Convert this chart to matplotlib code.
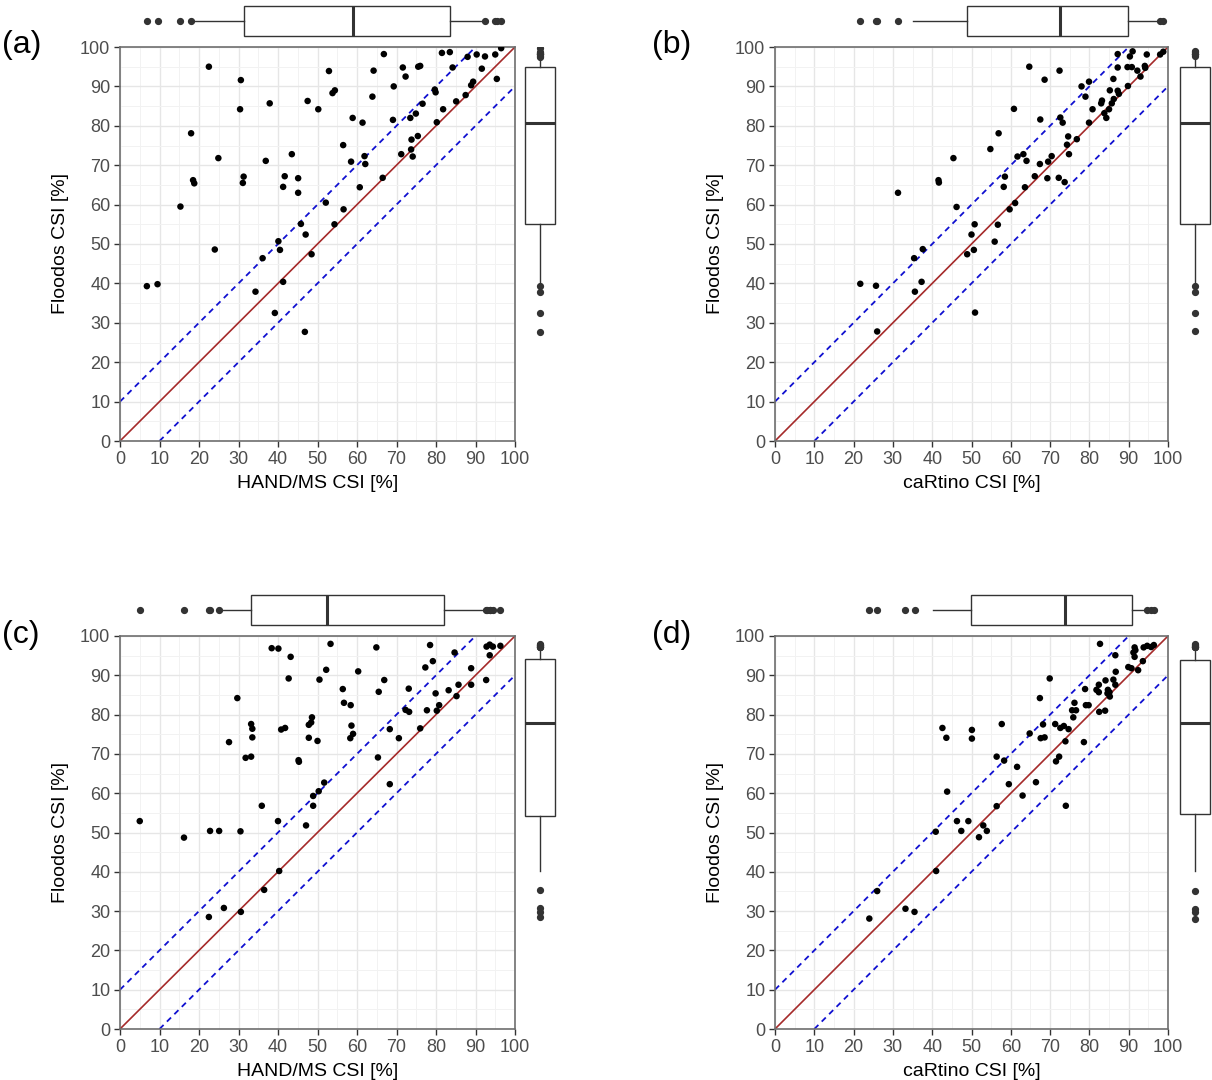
import numpy as np
import matplotlib
matplotlib.use('Agg')
import matplotlib.pyplot as plt
from matplotlib.ticker import MultipleLocator

plt.rcParams['font.family'] = ['Liberation Sans', 'DejaVu Sans']

# ---------------- data ----------------
a_x = [6.8, 9.5, 15.3, 18.0, 18.5, 18.8, 22.5, 24.9, 24.0, 30.6, 30.4, 31.3, 31.1, 34.3, 36.1, 36.9,
       37.9, 39.2, 40.1, 40.5, 41.3, 41.7, 41.3, 43.5, 45.1, 45.1, 45.8, 46.8, 47.0, 47.5, 48.5, 50.2,
       52.1, 52.9, 53.8, 54.4, 54.3, 56.5, 56.6, 58.5, 58.9, 60.7, 61.4, 61.9, 62.1, 63.9, 64.2, 66.5,
       66.8, 69.1, 69.3, 71.2, 71.6, 72.3, 73.5, 73.7, 74.1, 73.8, 74.9, 75.4, 75.5, 76.0, 76.6, 79.7,
       79.9, 80.2, 81.5, 81.8, 83.5, 84.2, 85.1, 87.5, 88.0, 88.9, 89.4, 90.3, 91.6, 92.4, 95.0, 95.4,
       96.5]
a_y = [39.3, 39.8, 59.5, 78.1, 66.2, 65.4, 95.0, 71.8, 48.6, 91.6, 84.2, 67.1, 65.5, 37.9, 46.4, 71.1,
       85.7, 32.5, 50.7, 48.5, 40.4, 67.2, 64.5, 72.8, 66.7, 63.0, 55.1, 27.7, 52.4, 86.3, 47.4, 84.2,
       60.5, 93.9, 88.3, 89.0, 55.0, 75.1, 58.8, 70.9, 82.0, 64.4, 80.8, 72.3, 70.3, 87.4, 94.0, 66.8,
       98.2, 81.5, 90.0, 72.8, 94.8, 92.5, 82.0, 74.0, 72.2, 76.5, 83.1, 77.4, 95.0, 95.2, 85.6, 89.2,
       88.5, 80.9, 98.5, 84.2, 98.7, 94.8, 86.2, 87.8, 97.5, 90.3, 91.2, 98.1, 94.5, 97.6, 98.1, 91.9,
       99.7]

b_x = [87.2, 91.0, 94.6, 98.0, 98.8, 90.3, 64.7, 72.4, 87.2, 89.7, 90.8, 92.2, 94.1, 94.2, 93.0, 68.6,
       86.1, 79.9, 78.0, 89.8, 85.2, 87.2, 87.5, 79.0, 83.2, 83.0, 86.2, 85.7, 80.8, 85.0, 83.8, 84.3,
       67.5, 72.6, 73.2, 79.9, 74.6, 76.8, 74.3, 74.8, 63.2, 64.0, 70.4, 69.5, 67.4, 66.1, 69.3, 72.2,
       73.7, 63.6, 60.8, 56.9, 54.8, 45.4, 61.7, 41.6, 41.7, 31.3, 58.5, 58.2, 46.2, 61.1, 59.7, 50.8,
       56.7, 50.0, 55.9, 48.9, 50.6, 37.6, 35.4, 37.3, 35.6, 21.7, 25.7, 50.9, 26.0]
b_y = [98.2, 98.9, 98.1, 98.1, 98.8, 97.6, 95.0, 94.0, 94.8, 94.9, 94.9, 94.0, 95.2, 94.7, 92.5, 91.7,
       91.9, 91.2, 90.0, 90.1, 89.0, 88.9, 88.1, 87.4, 86.4, 85.7, 86.8, 85.7, 84.2, 84.2, 83.2, 82.0,
       81.6, 82.1, 80.8, 80.8, 77.3, 76.6, 75.2, 72.8, 72.8, 71.1, 72.3, 70.9, 70.3, 67.2, 66.7, 66.8,
       65.7, 64.4, 84.3, 78.1, 74.1, 71.8, 72.2, 66.2, 65.6, 63.0, 67.1, 64.5, 59.4, 60.4, 58.8, 55.0,
       54.9, 52.4, 50.6, 47.4, 48.5, 48.7, 46.4, 40.4, 37.9, 39.9, 39.4, 32.6, 27.8]

c_x = [5.0, 16.2, 22.8, 25.1, 30.5, 29.7, 27.6, 31.8, 33.2, 33.2, 33.5, 33.5, 35.9, 38.4, 40.1, 43.2,
       42.7, 40.0, 40.8, 41.8, 45.2, 45.3, 47.1, 48.9, 48.9, 50.3, 51.7, 47.8, 48.4, 48.6, 47.8, 50.0,
       50.5, 52.2, 53.3, 56.4, 56.7, 58.4, 58.6, 58.3, 59.0, 60.3, 64.9, 66.9, 65.5, 68.3, 70.6, 65.3,
       68.3, 78.5, 79.2, 77.3, 84.7, 73.1, 72.3, 73.2, 77.7, 79.9, 80.8, 80.2, 76.0, 83.2, 85.2, 85.7,
       88.9, 88.9, 92.7, 92.8, 93.6, 94.4, 96.3, 93.6, 22.5, 26.3, 30.6, 36.5, 40.3]
c_y = [52.9, 48.7, 50.4, 50.4, 50.3, 84.2, 73.0, 69.0, 69.3, 77.6, 76.4, 74.2, 56.8, 96.9, 96.8, 94.7,
       89.2, 52.9, 76.2, 76.6, 68.4, 68.0, 51.8, 59.3, 56.8, 60.5, 62.7, 77.4, 78.0, 79.3, 74.1, 73.3,
       88.9, 91.4, 98.0, 86.5, 83.0, 82.4, 77.2, 74.0, 75.1, 91.0, 97.1, 88.8, 85.8, 76.3, 74.0, 69.1,
       62.3, 97.7, 93.6, 92.0, 95.8, 86.6, 81.2, 80.7, 81.1, 85.4, 82.4, 81.0, 76.5, 86.2, 84.7, 87.6,
       91.8, 87.6, 88.8, 97.3, 97.8, 97.3, 97.5, 95.1, 28.5, 30.8, 29.8, 35.4, 40.2]

d_x = [42.6, 43.6, 50.1, 50.1, 57.7, 56.4, 58.3, 43.8, 40.9, 46.3, 49.2, 47.4, 53.0, 53.9, 51.9, 56.4,
       41.0, 26.0, 33.2, 35.5, 24.0, 82.7, 91.5, 91.7, 93.8, 94.7, 95.7, 96.4, 91.2, 91.5, 86.6, 93.6,
       89.9, 90.7, 92.4, 86.7, 69.9, 84.1, 86.1, 86.6, 82.4, 78.9, 81.8, 82.4, 84.7, 85.1, 84.6, 85.2,
       67.4, 76.2, 79.1, 79.8, 75.6, 76.6, 82.5, 84.0, 75.9, 68.2, 71.3, 72.6, 73.5, 74.7, 64.8, 67.6,
       68.6, 73.9, 78.6, 72.3, 71.5, 61.6, 59.5, 66.4, 63.0, 74.0]
d_y = [76.6, 74.1, 76.1, 73.9, 77.6, 69.3, 68.3, 60.4, 50.2, 52.9, 52.9, 50.4, 51.8, 50.4, 48.8, 56.7,
       40.2, 35.1, 30.6, 29.8, 28.1, 98.0, 97.1, 96.4, 97.1, 97.5, 97.2, 97.7, 95.8, 94.7, 95.1, 93.6,
       92.1, 91.8, 91.3, 90.9, 89.2, 88.7, 88.9, 87.6, 87.6, 86.5, 86.3, 85.7, 86.3, 85.7, 85.4, 84.6,
       84.2, 83.0, 82.4, 82.4, 81.1, 81.1, 80.7, 81.0, 79.3, 77.5, 77.6, 76.6, 77.1, 76.3, 75.2, 74.0,
       74.2, 73.2, 73.0, 69.3, 68.1, 66.7, 62.3, 62.8, 59.4, 56.8]

# marginal box statistics: [whisker low, Q1, median, Q3, whisker high]
a_xbox = [18.1, 31.4, 58.9, 83.5, 92.0]
a_ybox = [39.4, 55.0, 80.8, 94.8, 97.2]
b_xbox = [35.1, 48.9, 72.5, 89.8, 97.0]
b_ybox = [39.5, 55.0, 80.8, 94.8, 97.2]
c_xbox = [25.3, 33.2, 52.4, 82.0, 91.9]
c_ybox = [40.2, 54.2, 77.9, 94.1, 97.0]
d_xbox = [40.2, 49.9, 73.8, 90.8, 94.6]
d_ybox = [40.2, 54.6, 77.9, 94.0, 97.0]

x_labels = ['HAND/MS CSI [%]', 'caRtino CSI [%]', 'HAND/MS CSI [%]', 'caRtino CSI [%]']
y_label = 'Floodos CSI [%]'
tags = ['(a)', '(b)', '(c)', '(d)']
ref_offsets = [0, 10, -10]
tick_values = list(range(0, 101, 10))

# ---------------- layout ----------------
W, H = 1212, 1080
fig = plt.figure(figsize=(W / 100, H / 100), dpi=100)


def rect(x0, y0, x1, y1):
    return [x0 / W, 1 - y1 / H, (x1 - x0) / W, (y1 - y0) / H]


layout = [
    dict(main=(120, 47, 515, 441), top=(0, 42), right=(519, 561), tag=(2, 45)),
    dict(main=(775, 47, 1168, 441), top=(0, 42), right=(1174, 1216), tag=(652, 45)),
    dict(main=(120, 636, 515, 1029), top=(589, 631), right=(519, 561), tag=(2, 635)),
    dict(main=(775, 636, 1168, 1029), top=(589, 631), right=(1174, 1216), tag=(652, 635)),
]
datasets = [(a_x, a_y, a_xbox, a_ybox), (b_x, b_y, b_xbox, b_ybox),
            (c_x, c_y, c_xbox, c_ybox), (d_x, d_y, d_xbox, d_ybox)]

box_kw = dict(patch_artist=True, widths=30 / 42, showcaps=False,
              boxprops=dict(facecolor='white', edgecolor='#333333', linewidth=1.0),
              medianprops=dict(color='#333333', linewidth=2.2),
              whiskerprops=dict(color='#333333', linewidth=1.0),
              flierprops=dict(marker='o', markerfacecolor='#333333', markeredgecolor='#333333',
                              markersize=4.2))


def box_stats(values, stats):
    v = np.asarray(values)
    lo, q1, med, q3, hi = stats
    return [dict(whislo=lo, q1=q1, med=med, q3=q3, whishi=hi,
                 fliers=v[(v < lo) | (v > hi)])]


for i, (lay, (xs, ys, xbox, ybox)) in enumerate(zip(layout, datasets)):
    x0, y0, x1, y1 = lay['main']
    ax = fig.add_axes(rect(x0, y0, x1, y1))
    ax.set_xlim(0, 100)
    ax.set_ylim(0, 100)
    ax.xaxis.set_minor_locator(MultipleLocator(5))
    ax.yaxis.set_minor_locator(MultipleLocator(5))
    ax.set_xticks(tick_values)
    ax.set_yticks(tick_values)
    ax.grid(which='major', color='#E6E6E6', linewidth=1.0, zorder=0)
    ax.grid(which='minor', color='#F2F2F2', linewidth=0.7, zorder=0)
    ax.set_axisbelow(True)
    ax.tick_params(which='major', length=4, width=1, color='#333333', labelsize=13,
                   labelcolor='#4D4D4D', pad=3)
    ax.tick_params(which='minor', length=0)
    for sp in ax.spines.values():
        sp.set_color('#6E6E6E')
        sp.set_linewidth(1.2)
    for off in ref_offsets:
        if off == 0:
            ax.axline((0, off), slope=1, color='#A52A2A', linewidth=1.2, zorder=2)
        else:
            ax.axline((0, off), slope=1, color='#1010D0', linewidth=1.3,
                      linestyle=(0, (3.2, 2.6)), zorder=2)
    ax.scatter(xs, ys, s=22, color='black', edgecolors='none', zorder=3)
    ax.set_xlabel(x_labels[i], fontsize=14, labelpad=5)
    ax.set_ylabel(y_label, fontsize=14, labelpad=8)

    # top marginal boxplot
    t0, t1 = lay['top']
    axt = fig.add_axes(rect(x0, t0, x1, t1))
    axt.bxp(box_stats(xs, xbox), positions=[0.5], orientation='horizontal', **box_kw)
    axt.set_xlim(0, 100)
    axt.set_ylim(0, 1)
    axt.axis('off')

    # right marginal boxplot
    r0, r1 = lay['right']
    axr = fig.add_axes(rect(r0, y0, r1, y1))
    axr.bxp(box_stats(ys, ybox), positions=[0.5], orientation='vertical', **box_kw)
    axr.set_ylim(0, 100)
    axr.set_xlim(0, 1)
    axr.axis('off')

    tx, ty = lay['tag']
    fig.text(tx / W, 1 - ty / H, tags[i], fontsize=23, ha='left', va='center', color='black')

fig.savefig('out.png', dpi=100, facecolor='white')
